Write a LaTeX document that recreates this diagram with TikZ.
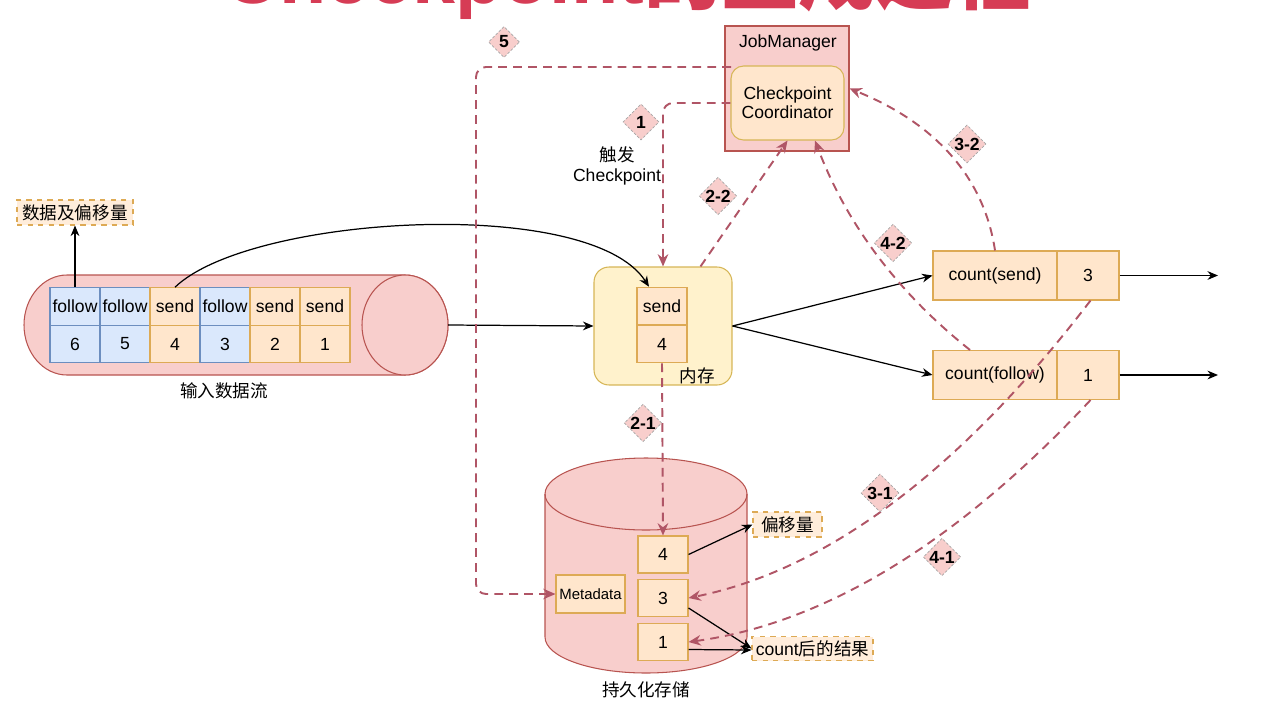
\documentclass[tikz,border=0pt]{standalone}
\usepackage{fontspec}
\setmainfont{Liberation Sans}
\newfontfamily\cjk{Noto Sans CJK SC}
\usepackage{tikz}
\usetikzlibrary{calc,positioning,shapes.geometric}
\usetikzlibrary{arrows.meta}

\definecolor{pinkfill}{HTML}{F8CECC}
\definecolor{pinkline}{HTML}{B85450}
\definecolor{orfill}{HTML}{FFE6CC}
\definecolor{orline}{HTML}{DDAA55}
\definecolor{yelfill}{HTML}{FFF2CC}
\definecolor{yelline}{HTML}{D6B656}
\definecolor{bluefill}{HTML}{DAE8FC}
\definecolor{blueline}{HTML}{6C8EBF}
\definecolor{dashred}{HTML}{B05566}
\definecolor{titlered}{HTML}{D63C55}

\begin{document}
\begin{tikzpicture}[x=0.02cm,y=-0.02cm,
    cell/.style={draw,line width=0.6pt,minimum width=1cm,minimum height=0.75cm,inner sep=1pt},
    note/.style={draw=orline,dashed,fill=orfill!70,line width=0.6pt,inner sep=1pt,minimum height=0.5cm},
    tag/.style={diamond,draw=gray!70,dash pattern=on 1.5pt off 1pt,fill=pinkfill,minimum size=0.72cm,inner sep=0pt,font=\bfseries},
    flow/.style={draw=black,line width=0.7pt,-{Stealth[length=6pt,width=5pt]}},
    sig/.style={draw=dashred,line width=1.1pt,dash pattern=on 5pt off 3.5pt,-{Stealth[length=7pt,width=6pt]}}]
        \useasboundingbox (0,0) rectangle (1267,700);
        % title, cut off by the top edge
        \node[anchor=base,text=titlered,font=\fontsize{44}{50}\selectfont\bfseries] (title) at (627,3) {Checkpoint{\cjk 的生成过程}};

        % input stream
        \draw[fill=pinkfill,draw=pinkline,line width=0.6pt] (67,275) -- (405,275)
            arc[start angle=-90,end angle=90,x radius=43,y radius=50] -- (67,375)
            arc[start angle=90,end angle=270,x radius=43,y radius=50] -- cycle;
        \draw[fill=pinkfill,draw=pinkline,line width=0.6pt] (405,325) ellipse [x radius=43,y radius=50];
        \coordinate (inr) at (448,325);
        \foreach \n/\w/\f/\l [count=\i] in {6/follow/bluefill/blueline,5/follow/bluefill/blueline,4/send/orfill/orline,3/follow/bluefill/blueline,2/send/orfill/orline,1/send/orfill/orline}{
            \node[cell,fill=\f,draw=\l] (w\n) at ({25+50*\i},306.5) {\w};
            \node[cell,fill=\f,draw=\l] (n\n) at ({25+50*\i},344) {\n};
        }
        \node (inlbl) at (224,391) {\cjk 输入数据流};
        \node[note,minimum width=2.32cm] (lbldata) at (75,212.5) {\cjk 数据及偏移量};

        % JobManager
        \node[draw=pinkline,fill=pinkfill,line width=0.6pt,minimum width=2.48cm,minimum height=2.5cm] (jm) at (787,88.5) {};
        \node (jmlbl) at (788,43) {JobManager};
        \node[draw=yelline,fill=orfill,line width=0.6pt,rounded corners=0.25cm,minimum width=2.26cm,minimum height=1.48cm,align=center,font=\fontsize{10}{11}\selectfont] (cpc) at (787.5,103) {Checkpoint\\Coordinator};
        \coordinate (jm5) at (731,67);

        % memory
        \node[draw=yelline,fill=yelfill,line width=0.6pt,rounded corners=0.3cm,minimum width=2.76cm,minimum height=2.36cm] (mem) at (663,326) {};
        \node[cell,fill=orfill,draw=orline] (msend) at (662,306) {send};
        \node[cell,fill=orfill,draw=orline] (mfour) at (662,344) {4};
        \node (memlbl) at (697,376) {\cjk 内存};
        \node[align=center,font=\fontsize{10}{11.5}\selectfont] (trig) at (617,166) {{\cjk 触发}\\Checkpoint};

        % count results
        \node[cell,fill=orfill,draw=orline,minimum width=2.48cm,minimum height=0.98cm] (cs) at (995,275.5) {count(send)};
        \node[cell,fill=orfill,draw=orline,minimum width=1.24cm,minimum height=0.98cm] (csv) at (1088,275.5) {3};
        \node[cell,fill=orfill,draw=orline,minimum width=2.48cm,minimum height=0.98cm] (cf) at (995,375) {count(follow)};
        \node[cell,fill=orfill,draw=orline,minimum width=1.24cm,minimum height=0.98cm] (cfv) at (1088,375) {1};
        \coordinate (outs) at (1218,275.5);
        \coordinate (outf) at (1218,375);

        % persistent storage
        \draw[fill=pinkfill,draw=pinkline,line width=0.6pt] (545,494) -- (545,637)
            arc[start angle=180,end angle=0,x radius=101,y radius=36] -- (747,494)
            arc[start angle=0,end angle=-180,x radius=101,y radius=36] -- cycle;
        \draw[draw=pinkline,line width=0.6pt] (545,494) arc[start angle=180,end angle=0,x radius=101,y radius=36];
        \node (stlbl) at (646,690) {\cjk 持久化存储};
        \node[cell,fill=orfill,draw=orline,minimum height=0.74cm] (s4) at (663,554.5) {4};
        \node[cell,fill=orfill,draw=orline,minimum height=0.74cm] (s3) at (663,598) {3};
        \node[cell,fill=orfill,draw=orline,minimum height=0.74cm] (s1) at (663,642) {1};
        \node[cell,fill=orfill,draw=orline,minimum width=1.38cm,minimum height=0.76cm,font=\fontsize{8.5}{10}\selectfont] (meta) at (590.5,594) {Metadata};
        \node[note,minimum width=1.38cm] (lbloff) at (787.5,524.5) {\cjk 偏移量};
        \node[note,minimum width=2.42cm,minimum height=0.48cm] (lblres) at (812.5,648.5) {count{\cjk 后的结果}};

        % data flow
        \draw[flow] (w6.north) -- (lbldata.south);
        \draw[flow] (w4.north) .. controls (250,215) and (590,195) .. ([xshift=0.25cm]msend.north west);
        \draw[flow] (inr) -- (mem.west);
        \draw[flow] (mem.east) -- (cs.west);
        \draw[flow] (mem.east) -- (cf.west);
        \draw[flow] (csv.east) -- (outs);
        \draw[flow] (cfv.east) -- (outf);
        \draw[flow] (s4.east) -- (lbloff.west);
        \draw[flow] ([yshift=-0.2cm]s3.east) -- (lblres.west);
        \draw[flow] ([yshift=-0.15cm]s1.east) -- ([yshift=-0.03cm]lblres.west);

        % checkpoint steps
        \draw[sig,rounded corners=0.2cm] (cpc.west) -| (mem.north);
        \draw[sig,rounded corners=0.2cm] (jm5) -- (476,67) |- (meta.west);
        \draw[sig] ([xshift=0.75cm]mem.north) -- (cpc.south);
        \draw[sig] (mfour.south) -- (s4.north);
        \draw[sig] (cs.north) .. controls (984,177) and (935,123) .. (jm.east);
        \draw[sig] ([xshift=-0.5cm]cf.north) .. controls (897,292) and (846,223) .. ([xshift=0.55cm]cpc.south);
        \draw[sig] ([xshift=0.05cm]csv.south) .. controls (960,471) and (827,570) .. (s3.east);
        \draw[sig] ([xshift=0.05cm]cfv.south) .. controls (960,540) and (827,623) .. (s1.east);

        \node[tag,minimum size=0.62cm] (t5) at (504,42) {5};
        \node[tag] (t1) at (641,122) {1};
        \node[tag] (t22) at (718,196) {2-2};
        \node[tag] (t21) at (643,423) {2-1};
        \node[tag] (t32) at (967,144) {3-2};
        \node[tag] (t42) at (893,243) {4-2};
        \node[tag] (t31) at (880,493) {3-1};
        \node[tag] (t41) at (942,557) {4-1};
        \end{tikzpicture}
\end{document}
